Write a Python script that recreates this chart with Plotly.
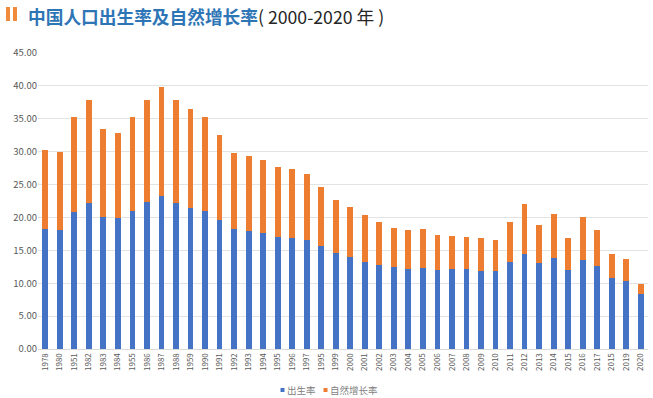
import plotly.graph_objects as go

years = ["1978", "1980", "1951", "1982", "1983", "1984", "1955", "1986", "1987", "1988",
         "1959", "1990", "1991", "1992", "1993", "1994", "1995", "1996", "1997", "1995",
         "1999", "2000", "2001", "2002", "2003", "2004", "2005", "2006", "2007", "2008",
         "2009", "2010", "2011", "2012", "2013", "2014", "2015", "2016", "2017", "2015",
         "2019", "2020"]

birth_rate = [18.2, 18.1, 20.9, 22.2, 20.1, 19.9, 21.0, 22.3, 23.3, 22.2,
              21.5, 21.0, 19.6, 18.2, 18.0, 17.6, 17.1, 16.9, 16.5, 15.6,
              14.6, 14.0, 13.3, 12.8, 12.4, 12.2, 12.3, 12.05, 12.1, 12.1,
              11.9, 11.8, 13.2, 14.4, 13.0, 13.8, 12.0, 13.5, 12.6, 10.8,
              10.4, 8.4]

total_rate = [30.2, 30.0, 35.3, 37.8, 33.4, 32.9, 35.2, 37.8, 39.9, 37.9,
              36.5, 35.3, 32.6, 29.8, 29.4, 28.8, 27.6, 27.3, 26.6, 24.7,
              22.7, 21.6, 20.3, 19.3, 18.4, 18.1, 18.2, 17.3, 17.2, 17.1,
              16.8, 16.6, 19.35, 22.0, 18.8, 20.5, 16.8, 20.0, 18.1, 14.5,
              13.7, 9.9]

natural_growth = [round(t - b, 2) for t, b in zip(total_rate, birth_rate)]

y_ticks = [0, 5, 10, 15, 20, 25, 30, 35, 40, 45]

BLUE = "#4472C4"
ORANGE = "#ED7D31"

xpos = list(range(len(years)))

fig = go.Figure()
fig.add_trace(go.Bar(x=xpos, y=birth_rate, name="出生率", showlegend=False,
                     marker=dict(color=BLUE, line=dict(width=0))))
fig.add_trace(go.Bar(x=xpos, y=natural_growth, name="自然增长率", showlegend=False,
                     marker=dict(color=ORANGE, line=dict(width=0))))

W, H = 653, 398
L, R, T, B = 38, 5, 53, 49
pw, ph = W - L - R, H - T - B

def px(x):
    return (x - L) / pw

def py(y):
    return (H - B - y) / ph

fig.update_layout(
    width=W, height=H,
    barmode="stack", bargap=0.6,
    margin=dict(l=L, r=R, t=T, b=B),
    plot_bgcolor="white", paper_bgcolor="white",
    font=dict(family="Noto Sans CJK SC, Noto Sans, sans-serif", color="#595959"),
    xaxis=dict(tickmode="array", tickvals=xpos, ticktext=years, tickangle=-90,
               tickfont=dict(size=8, color="#595959"), range=[-0.5, len(years) - 0.5],
               showgrid=False, showline=True, linecolor="#d9d9d9", linewidth=1,
               ticks="", automargin=False),
    yaxis=dict(range=[0, 45], tickvals=y_ticks, tickformat=".2f",
               tickfont=dict(size=9.5, color="#595959"), showgrid=True,
               gridcolor="#e3e3e3", gridwidth=1, zeroline=False, ticks="",
               showline=False, automargin=False),
    showlegend=False,
)

for x0, x1 in [(6, 10), (13, 17)]:
    fig.add_shape(type="rect", xref="paper", yref="paper",
                  x0=px(x0), x1=px(x1), y0=py(21), y1=py(7),
                  fillcolor="#F08A3C", line=dict(width=0))

fig.add_annotation(
    xref="paper", yref="paper", x=px(26), y=py(16), xanchor="left", yanchor="middle",
    showarrow=False,
    text="<b><span style='color:#2E75B6'>中国人口出生率及自然增长率</span></b>"
         "<span style='color:#262626'>( 2000-2020 年 )</span>",
    font=dict(size=17.7, family="Noto Sans CJK SC, sans-serif"),
)

# legend drawn as coloured squares plus text
for sx, tx, color, name in [(280.5, 285, BLUE, fig.data[0].name),
                            (323.5, 328, ORANGE, fig.data[1].name)]:
    fig.add_shape(type="rect", xref="paper", yref="paper",
                  x0=px(sx), x1=px(sx + 4), y0=py(392), y1=py(388),
                  fillcolor=color, line=dict(width=0))
    fig.add_annotation(
        xref="paper", yref="paper", x=px(tx), y=py(390), xanchor="left", yanchor="middle",
        showarrow=False, text=name,
        font=dict(size=9.5, color="#7f7f7f", family="Noto Sans CJK SC, sans-serif"),
    )

fig.write_html("out.html", config={"displayModeBar": False},
               post_script="document.body.style.margin='0';document.body.style.overflow='hidden';")
